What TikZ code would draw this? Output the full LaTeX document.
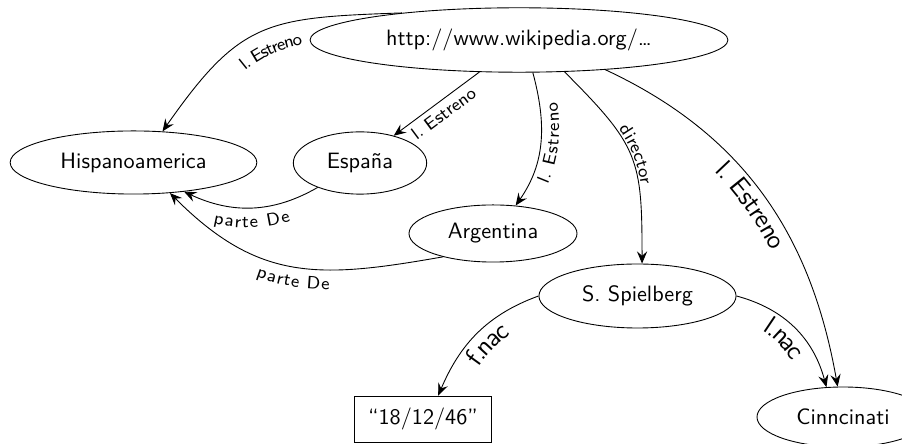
\documentclass[tikz,border=0pt]{standalone}
\usepackage{fontspec}
\usepackage{tikz}
\usetikzlibrary{arrows.meta,shapes.geometric,decorations.text}
\tikzset{
  recurso/.style={ellipse,draw,inner sep=0pt,font=\sffamily},
  literal/.style={rectangle,draw,inner sep=0pt,font=\sffamily},
  etiq/.style 2 args={postaction={decorate,decoration={text along path,text align=center,raise=#2,text={|\sffamily\footnotesize|#1}}}},
  etiqg/.style 2 args={postaction={decorate,decoration={text along path,text align=center,raise=#2,text={|\sffamily\large|#1}}}}
}
\begin{document}
\begin{tikzpicture}[>={Stealth[length=5.5pt,width=4.6pt,inset=2pt]},x=0.45pt,y=0.45pt]
            \clip (0,0) rectangle (902,444);
            \node[recurso,minimum width=188pt,minimum height=29pt] (url) at (519,404) {http://www.wikipedia.org/\dots};
            \node[recurso,minimum width=111pt,minimum height=28.4pt] (hisp) at (133.5,281.5) {Hispanoamerica};
            \node[recurso,minimum width=60pt,minimum height=28pt] (esp) at (360,281) {Espa\~na};
            \node[recurso,minimum width=75.6pt,minimum height=25.7pt] (arg) at (493,210.5) {Argentina};
            \node[recurso,minimum width=88.7pt,minimum height=28.8pt] (spb) at (637.5,148) {S. Spielberg};
            \node[recurso,minimum width=77.4pt,minimum height=27pt] (cin) at (843,27) {Cinncinati};
            \node[literal,minimum width=62pt,minimum height=20.7pt] (fnac) at (423,25) {``18/12/46''};
            \draw[<-,etiq={l. Estreno}{-11pt}] (hisp.47) to[out=55,in=182,looseness=1.3] (url.167);
            \draw[<-,etiq={l. Estreno}{-8pt}] (esp.39) -- (url.219);
            \draw[<-,etiq={l. Estreno}{-8pt}] (arg.51) to[out=55,in=-75] (url.293);
            \draw[->,etiq={director}{1pt}] (url.-35) to[out=-45,in=90,looseness=1.3] (spb.82);
            \draw[->,etiqg={l. Estreno}{-10pt}] (url.-19) to[out=-25,in=100] (cin.100);
            \draw[<-,etiqg={f.nac}{-10pt}] (fnac.57) to[out=67,in=200] (spb.west);
            \draw[->,etiqg={l.nac}{-10pt}] (spb.east) to[out=-15,in=105] (cin.119);
            \draw[<-,etiq={parte De}{-9pt}] (hisp.-30) to[out=-25,in=210] (esp.210);
            \draw[<-,etiq={parte De}{-9pt}] (hisp.-40) to[out=-45,in=190,looseness=1.15] (arg.205);
\end{tikzpicture}
\end{document}
